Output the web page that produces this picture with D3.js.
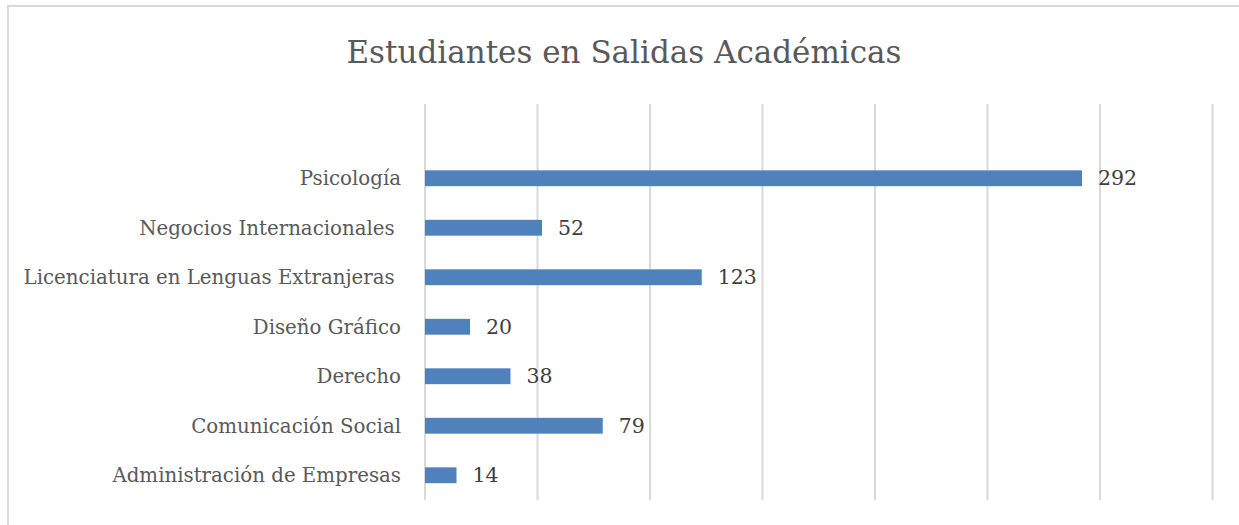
<!DOCTYPE html>
<html>
<head>
    <meta charset="UTF-8">
    <title>Estudiantes en Salidas Académicas</title>
    <script src="https://d3js.org/d3.v7.min.js"></script>
    <style>
        body { margin: 0; padding: 0; background: #fff; }
        svg { display: block; font-family: "DejaVu Serif", "Liberation Serif", serif; }
    </style>
</head>
<body>
    <svg id="chart" width="1239" height="525"></svg>

    <script>
        // "" is the empty row at the top of the original chart
        const categories = ["", "Psicología", "Negocios Internacionales ", "Licenciatura en Lenguas Extranjeras ",
            "Diseño Gráfico", "Derecho", "Comunicación Social", "Administración de Empresas"];
        const students = [null, 292, 52, 123, 20, 38, 79, 14];
        const gridTicks = [0, 50, 100, 150, 200, 250, 300, 350];

        const data = categories.map((c, i) => ({ cat: c, value: students[i] }));

        const svg = d3.select("#chart");

        svg.append("rect")
            .attr("x", 8).attr("y", 6)
            .attr("width", 1240).attr("height", 530)
            .attr("fill", "#fff")
            .attr("stroke", "#d9d9d9")
            .attr("stroke-width", 2);

        svg.append("text")
            .attr("x", 624)
            .attr("y", 63)
            .attr("text-anchor", "middle")
            .attr("fill", "#595959")
            .style("font-size", "31px")
            .text("Estudiantes en Salidas Académicas");

        const x = d3.scaleLinear()
            .domain([0, 350])
            .range([425, 1212.5]);

        const y = d3.scaleBand()
            .domain(categories)
            .range([104, 500])
            .paddingInner(0.68)
            .paddingOuter(0.34);

        svg.append("g")
            .selectAll("line")
            .data(gridTicks)
            .enter()
            .append("line")
            .attr("x1", d => x(d)).attr("x2", d => x(d))
            .attr("y1", 104).attr("y2", 500)
            .attr("stroke", "#d9d9d9")
            .attr("stroke-width", 2);

        const rows = data.filter(d => d.value !== null);

        svg.append("g")
            .selectAll("rect")
            .data(rows)
            .enter()
            .append("rect")
            .attr("x", x(0))
            .attr("y", d => y(d.cat))
            .attr("width", d => x(d.value) - x(0))
            .attr("height", y.bandwidth())
            .attr("fill", "#4f81bd");

        svg.append("g")
            .selectAll("text")
            .data(rows)
            .enter()
            .append("text")
            .attr("x", d => x(d.value) + 16)
            .attr("y", d => y(d.cat) + y.bandwidth() / 2)
            .attr("dy", "0.35em")
            .attr("fill", "#404040")
            .style("font-size", "20.5px")
            .text(d => d.value);

        svg.append("g")
            .selectAll("text")
            .data(rows)
            .enter()
            .append("text")
            .attr("x", 401)
            .attr("y", d => y(d.cat) + y.bandwidth() / 2)
            .attr("dy", "0.35em")
            .attr("text-anchor", "end")
            .attr("fill", "#595959")
            .style("font-size", "19.8px")
            .style("white-space", "pre")
            .text(d => d.cat);
    </script>
</body>
</html>
